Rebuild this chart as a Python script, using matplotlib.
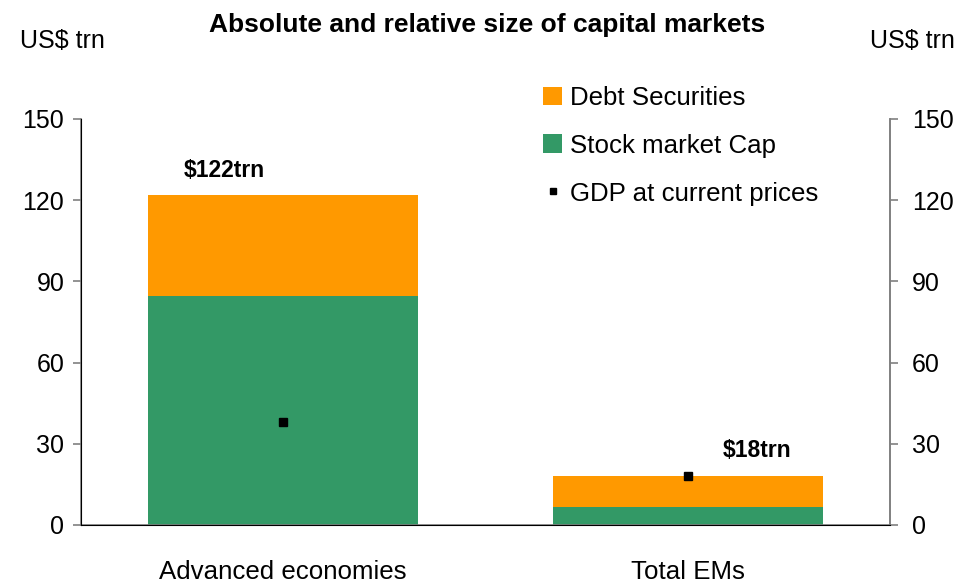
import matplotlib.pyplot as plt
from matplotlib.lines import Line2D
import numpy as np

plt.rcParams['font.family'] = ['Liberation Sans', 'DejaVu Sans']

regions = ['Advanced economies', 'Total EMs']
stock_cap = [84.5, 6.5]
debt_sec = [37.5, 11.5]
gdp = [38, 18]
yticks = [0, 30, 60, 90, 120, 150]

orange = '#FF9900'
green = '#339966'
grey = '#808080'

fig = plt.figure(figsize=(9.63, 5.85), dpi=100)
ax = fig.add_axes([0.0841, 0.1026, 0.8401, 0.694])

x = np.arange(len(regions))
totals = np.array(stock_cap) + np.array(debt_sec)

b_stock = ax.bar(x, stock_cap, width=2/3, color=green, label='Stock market Cap', zorder=2)
b_debt = ax.bar(x, debt_sec, width=2/3, bottom=stock_cap, color=orange, label='Debt Securities', zorder=2)
ax.plot(x, gdp, linestyle='none', marker='s', markersize=5.5, color='black', zorder=3)

ax.set_xlim(-0.5, 1.5)
ax.set_ylim(0, 150)
ax.set_yticks(yticks)
ax.set_xticks(x)
ax.set_xticklabels(regions)

ax.spines['top'].set_visible(False)
for s in ['left', 'bottom', 'right']:
    ax.spines[s].set_color(grey)
    ax.spines[s].set_linewidth(1.2)

ax.tick_params(axis='y', direction='out', length=6, width=1.2, color=grey, labelsize=18, pad=6)
ax.tick_params(axis='x', length=0, labelsize=18.6, pad=25)

ax2 = ax.twinx()
ax2.set_ylim(0, 150)
ax2.set_yticks(yticks)
ax2.spines['top'].set_visible(False)
ax2.spines['right'].set_color(grey)
ax2.spines['right'].set_linewidth(1.2)
ax2.tick_params(axis='y', direction='out', length=6, width=1.2, color=grey, labelsize=18, pad=10)

# total size labels above each stack
label_pos = [(-0.146, 131.0), (1.171, 27.5)]
for (lx, ly), t in zip(label_pos, totals):
    ax.text(lx, ly, f'${t:.0f}trn', ha='center', va='center', fontsize=16.5, fontweight='bold')

handles = [b_debt, b_stock,
           Line2D([], [], linestyle='none', marker='s', markersize=5, color='black')]
ax.legend(handles, ['Debt Securities', 'Stock market Cap', 'GDP at current prices'],
          loc='upper left', bbox_to_anchor=(543/963, 1 - 86/585), bbox_transform=fig.transFigure,
          frameon=False, fontsize=18.6, handlelength=0.75, handleheight=0.75,
          handletextpad=0.3, labelspacing=0.92, borderpad=0, borderaxespad=0)

fig.text(0.506, 0.958, 'Absolute and relative size of capital markets',
         ha='center', va='center', fontsize=19, fontweight='bold')
fig.text(0.065, 0.93, 'US$ trn', ha='center', va='center', fontsize=18)
fig.text(0.948, 0.93, 'US$ trn', ha='center', va='center', fontsize=18)

fig.savefig('out.png', dpi=100)
